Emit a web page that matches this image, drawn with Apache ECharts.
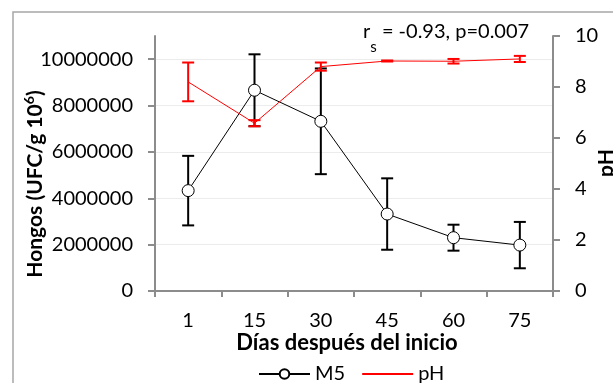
<!DOCTYPE html>
<html>
<head>
<meta charset="utf-8">
<script src="https://cdn.jsdelivr.net/npm/echarts@6/dist/echarts.min.js"></script>
<style>
  html, body { margin: 0; padding: 0; background: #fff; }
  #chart { width: 613px; height: 383px; }
</style>
</head>
<body>
<div id="chart"></div>
<script>
// Sampling days
const days = ['1', '15', '30', '45', '60', '75'];
// Fungal counts (UFC/g) for M5, mean and error
const m5Mean = [4330000, 8660000, 7320000, 3320000, 2300000, 1980000];
const m5Err = [1500000, 1550000, 2280000, 1540000, 560000, 1000000];
// pH, mean and error
const phMean = [8.2, 6.58, 8.8, 9.02, 9.01, 9.1];
const phErr = [0.76, 0.12, 0.16, 0.02, 0.09, 0.12];
// Axis ticks
const leftTicks = [0, 2000000, 4000000, 6000000, 8000000, 10000000];
const rightTicks = [0, 2, 4, 6, 8, 10];

const FONT = 'Lato';
const AXIS_COLOR = '#8c8c8c';
const GRID_COLOR = '#ececec';

function errorBars(color, capHalf, width) {
  return function (params, api) {
    const x = api.value(0);
    const lo = api.coord([x, api.value(1)]);
    const hi = api.coord([x, api.value(2)]);
    const style = { stroke: color, lineWidth: width };
    return {
      type: 'group',
      children: [
        { type: 'line', shape: { x1: lo[0], y1: lo[1], x2: hi[0], y2: hi[1] }, style },
        { type: 'line', shape: { x1: lo[0] - capHalf, y1: lo[1], x2: lo[0] + capHalf, y2: lo[1] }, style },
        { type: 'line', shape: { x1: hi[0] - capHalf, y1: hi[1], x2: hi[0] + capHalf, y2: hi[1] }, style }
      ]
    };
  };
}

const m5Bars = days.map((d, i) => [i, m5Mean[i] - m5Err[i], m5Mean[i] + m5Err[i]]);
const phBars = days.map((d, i) => [i, phMean[i] - phErr[i], phMean[i] + phErr[i]]);

const chart = echarts.init(document.getElementById('chart'), null, { renderer: 'canvas' });

chart.setOption({
  animation: false,
  backgroundColor: '#fff',
  textStyle: { fontFamily: FONT },
  grid: { left: 155, right: 60, top: 36, bottom: 92, containLabel: false },
  legend: {
    data: [
      { name: 'M5' },
      { name: 'pH', itemStyle: { opacity: 0 } }
    ],
    left: 253,
    top: 359,
    itemWidth: 51,
    itemHeight: 12,
    itemGap: 16,
    textStyle: { fontFamily: FONT, fontSize: 20, color: '#000' }
  },
  xAxis: {
    type: 'category',
    data: days,
    boundaryGap: true,
    axisLine: { lineStyle: { color: AXIS_COLOR, width: 2 } },
    axisTick: { show: true, length: 6, lineStyle: { color: AXIS_COLOR, width: 2 } },
    axisLabel: { fontFamily: FONT, fontSize: 20, color: '#000', margin: 20 },
    splitLine: { show: false }
  },
  yAxis: [
    {
      type: 'value',
      min: 0,
      max: 11000000,
      interval: 2000000,
      position: 'left',
      axisLine: { show: true, lineStyle: { color: AXIS_COLOR, width: 2 } },
      axisTick: { show: true, length: 7, customValues: leftTicks, lineStyle: { color: AXIS_COLOR, width: 2 } },
      axisLabel: {
        fontFamily: FONT, fontSize: 20, color: '#000', margin: 22,
        customValues: leftTicks,
        formatter: v => String(v)
      },
      splitLine: {
        show: true,
        lineStyle: { color: [GRID_COLOR, GRID_COLOR, GRID_COLOR, GRID_COLOR, GRID_COLOR, GRID_COLOR, 'rgba(0,0,0,0)'], width: 1 }
      }
    },
    {
      type: 'value',
      min: 0,
      max: 10,
      interval: 2,
      position: 'right',
      axisLine: { show: true, lineStyle: { color: AXIS_COLOR, width: 2 } },
      axisTick: { show: true, length: 7, lineStyle: { color: AXIS_COLOR, width: 2 } },
      axisLabel: { fontFamily: FONT, fontSize: 20, color: '#000', margin: 22 },
      splitLine: { show: false }
    }
  ],
  graphic: [
    {
      type: 'rect',
      shape: { x: 13, y: 12, width: 700, height: 500 },
      style: { fill: 'none', stroke: '#a6a6a6', lineWidth: 1.5 },
      silent: true,
      z: -10
    },
    {
      type: 'text',
      x: 34, y: 184,
      rotation: Math.PI / 2,
      style: {
        text: '{b|Hongos (UFC/g 10}{sup|6}{b|)}',
        align: 'center',
        verticalAlign: 'middle',
        rich: {
          b: { fontFamily: FONT, fontWeight: 'bold', fontSize: 21, fill: '#000', lineHeight: 23, verticalAlign: 'bottom' },
          sup: { fontFamily: FONT, fontWeight: 'bold', fontSize: 14, fill: '#000', lineHeight: 14, verticalAlign: 'top' }
        }
      }
    },
    {
      type: 'text',
      x: 606, y: 163,
      rotation: Math.PI / 2,
      style: {
        text: 'pH',
        align: 'center',
        verticalAlign: 'middle',
        fontFamily: FONT, fontWeight: 'bold', fontSize: 21, fill: '#000'
      }
    },
    {
      type: 'text',
      x: 347, y: 343,
      style: {
        text: 'Días después del inicio',
        align: 'center',
        verticalAlign: 'middle',
        fontFamily: FONT, fontWeight: 'bold', fontSize: 22, fill: '#000'
      }
    },
    {
      type: 'text',
      x: 363, y: 22,
      style: {
        text: '{a|r}{s|s}{a| = -0.93, p=0.007}',
        align: 'left',
        verticalAlign: 'top',
        rich: {
          a: { fontFamily: FONT, fontSize: 20, fill: '#000', lineHeight: 22, verticalAlign: 'top' },
          s: { fontFamily: FONT, fontSize: 15, fill: '#000', lineHeight: 15, verticalAlign: 'top', padding: [18, 0, 0, 0] }
        }
      }
    }
  ],
  series: [
    {
      name: 'M5 error',
      type: 'custom',
      xAxisIndex: 0,
      yAxisIndex: 0,
      renderItem: errorBars('#000', 6, 2),
      data: m5Bars,
      z: 2,
      silent: true
    },
    {
      name: 'M5',
      type: 'line',
      yAxisIndex: 0,
      data: m5Mean,
      symbol: 'circle',
      symbolSize: 12,
      itemStyle: { color: '#fff', borderColor: '#000', borderWidth: 1 },
      lineStyle: { color: '#000', width: 1 },
      z: 3
    },
    {
      name: 'pH error',
      type: 'custom',
      xAxisIndex: 0,
      yAxisIndex: 1,
      renderItem: errorBars('#ff0000', 6, 2),
      data: phBars,
      z: 4,
      silent: true
    },
    {
      name: 'pH',
      type: 'line',
      yAxisIndex: 1,
      data: phMean,
      symbol: 'none',
      itemStyle: { color: '#ff0000' },
      lineStyle: { color: '#ff0000', width: 1 },
      z: 5
    }
  ]
});
</script>
</body>
</html>
